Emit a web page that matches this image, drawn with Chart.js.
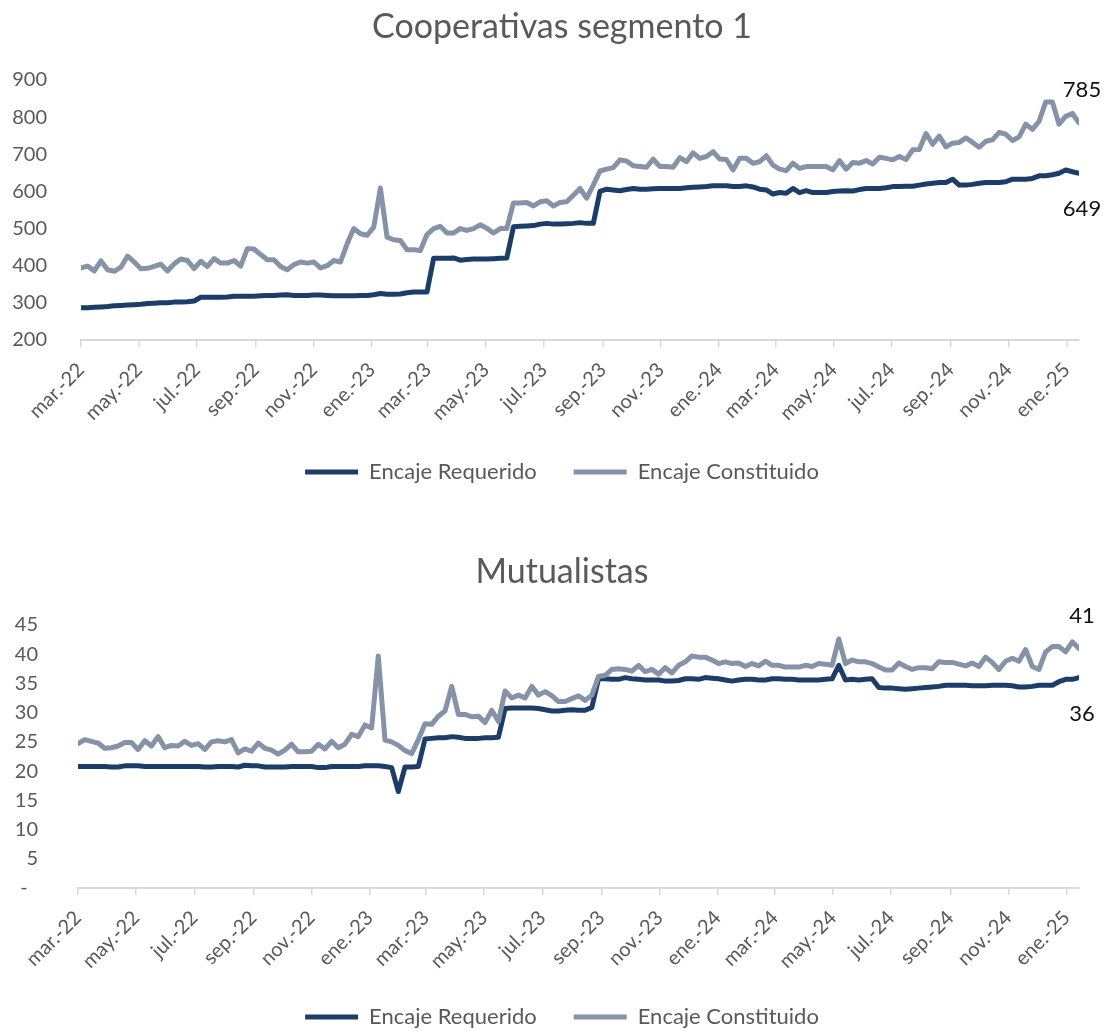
<!DOCTYPE html>
<html><head><meta charset="utf-8">
<script src="https://cdn.jsdelivr.net/npm/chart.js@4.4.1/dist/chart.umd.min.js"></script>
<style>
html,body{margin:0;padding:0;background:#fff;overflow:hidden;width:1106px;height:1031px;}
#c1{position:absolute;left:0;top:0;}
#c2{position:absolute;left:0;top:530px;}
</style></head><body>
<canvas id="c1" width="1106" height="510"></canvas>
<canvas id="c2" width="1106" height="510"></canvas>
<script>
// ---- categories (weekly dates) ----
const dates = [
'2022-03-04','2022-03-11','2022-03-18','2022-03-25','2022-04-01','2022-04-08','2022-04-15','2022-04-22','2022-04-29','2022-05-06',
'2022-05-13','2022-05-20','2022-05-27','2022-06-03','2022-06-10','2022-06-17','2022-06-24','2022-07-01','2022-07-08','2022-07-15',
'2022-07-22','2022-07-29','2022-08-05','2022-08-12','2022-08-19','2022-08-26','2022-09-02','2022-09-09','2022-09-16','2022-09-23',
'2022-09-30','2022-10-07','2022-10-14','2022-10-21','2022-10-28','2022-11-04','2022-11-11','2022-11-18','2022-11-25','2022-12-02',
'2022-12-09','2022-12-16','2022-12-23','2022-12-30','2023-01-06','2023-01-13','2023-01-20','2023-01-27','2023-02-03','2023-02-10',
'2023-02-17','2023-02-24','2023-03-03','2023-03-10','2023-03-17','2023-03-24','2023-03-31','2023-04-07','2023-04-14','2023-04-21',
'2023-04-28','2023-05-05','2023-05-12','2023-05-19','2023-05-26','2023-06-02','2023-06-09','2023-06-16','2023-06-23','2023-06-30',
'2023-07-07','2023-07-14','2023-07-21','2023-07-28','2023-08-04','2023-08-11','2023-08-18','2023-08-25','2023-09-01','2023-09-08',
'2023-09-15','2023-09-22','2023-09-29','2023-10-06','2023-10-13','2023-10-20','2023-10-27','2023-11-03','2023-11-10','2023-11-17',
'2023-11-24','2023-12-01','2023-12-08','2023-12-15','2023-12-22','2023-12-29','2024-01-05','2024-01-12','2024-01-19','2024-01-26',
'2024-02-02','2024-02-09','2024-02-16','2024-02-23','2024-03-01','2024-03-08','2024-03-15','2024-03-22','2024-03-29','2024-04-05',
'2024-04-12','2024-04-19','2024-04-26','2024-05-03','2024-05-10','2024-05-17','2024-05-24','2024-05-31','2024-06-07','2024-06-14',
'2024-06-21','2024-06-28','2024-07-05','2024-07-12','2024-07-19','2024-07-26','2024-08-02','2024-08-09','2024-08-16','2024-08-23',
'2024-08-30','2024-09-06','2024-09-13','2024-09-20','2024-09-27','2024-10-04','2024-10-11','2024-10-18','2024-10-25','2024-11-01',
'2024-11-08','2024-11-15','2024-11-22','2024-11-29','2024-12-06','2024-12-13','2024-12-20','2024-12-27','2025-01-03','2025-01-10',
'2025-01-17'
];

// ---- x tick labels ----
const tickDates = ['2022-03-04','2022-05-04','2022-07-04','2022-09-04','2022-11-04','2023-01-04','2023-03-04','2023-05-04','2023-07-04',
'2023-09-04','2023-11-04','2024-01-04','2024-03-04','2024-05-04','2024-07-04','2024-09-04','2024-11-04','2025-01-04'];
const tickLabels = ['mar.-22','may.-22','jul.-22','sep.-22','nov.-22','ene.-23','mar.-23','may.-23','jul.-23',
'sep.-23','nov.-23','ene.-24','mar.-24','may.-24','jul.-24','sep.-24','nov.-24','ene.-25'];

// ---- y tick labels ----
const coopYTicks = [200,300,400,500,600,700,800,900];
const coopYLabels = ['200','300','400','500','600','700','800','900'];
const mutYTicks = [0,5,10,15,20,25,30,35,40,45];
const mutYLabels = ['-  ','5','10','15','20','25','30','35','40','45'];

// ---- series: Cooperativas segmento 1 ----
const coopRequerido = [
287,287,288,289,290,292,293,294,295,296,
298,299,300,300,302,302,303,305,315,315,
315,315,316,318,318,318,318,319,320,320,
321,322,320,320,320,321,321,320,319,319,
319,319,320,320,322,325,323,323,324,327,
329,329,329,420,420,420,421,415,417,418,
418,418,419,420,421,505,506,507,508,512,
514,512,512,513,514,516,514,514,600,606,
604,602,605,608,606,606,607,608,608,608,
608,610,611,612,613,615,615,615,613,613,
615,612,606,604,593,597,595,608,597,602,
597,597,597,600,601,602,601,605,608,608,
608,610,613,613,614,614,617,620,622,624,
624,633,617,617,619,622,624,624,624,626,
633,633,633,635,642,642,645,649,658,653,
649
];
const coopConstituido = [
394,399,386,413,389,385,396,426,410,392,
393,398,404,386,405,418,414,392,412,398,
419,407,407,414,399,446,445,430,416,416,
398,389,403,410,407,410,394,400,414,410,
459,500,486,482,504,609,477,470,468,443,
443,441,484,500,506,488,488,500,495,500,
510,501,488,500,500,569,569,570,561,572,
575,561,570,572,590,608,582,617,655,660,
664,685,682,669,667,665,687,667,667,665,
691,680,704,689,694,707,687,686,658,689,
689,676,680,696,671,660,656,676,662,667,
667,667,667,658,683,660,678,676,683,674,
692,689,685,694,686,712,713,756,727,749,
720,730,732,744,732,719,735,739,759,754,
737,747,781,767,789,841,841,781,802,810,
785
];

// ---- series: Mutualistas ----
const mutRequerido = [
20.8,20.8,20.8,20.8,20.8,20.7,20.7,20.9,20.9,20.9,
20.8,20.8,20.8,20.8,20.8,20.8,20.8,20.8,20.8,20.7,
20.7,20.8,20.8,20.8,20.7,21.0,20.9,20.9,20.7,20.7,
20.7,20.7,20.8,20.8,20.8,20.8,20.6,20.6,20.8,20.8,
20.8,20.8,20.8,20.9,20.9,20.9,20.8,20.6,16.5,20.7,
20.7,20.8,25.5,25.6,25.7,25.7,25.9,25.8,25.6,25.6,
25.6,25.7,25.7,25.8,30.7,30.8,30.8,30.8,30.8,30.7,
30.5,30.3,30.3,30.4,30.5,30.4,30.4,30.9,35.8,35.8,
35.7,35.7,36.0,35.8,35.7,35.6,35.6,35.6,35.4,35.4,
35.5,35.8,35.8,35.7,36.0,35.9,35.8,35.6,35.4,35.6,
35.7,35.7,35.6,35.6,35.8,35.8,35.7,35.7,35.6,35.6,
35.6,35.6,35.7,35.8,38.1,35.6,35.7,35.6,35.7,35.8,
34.3,34.2,34.2,34.1,34.0,34.1,34.2,34.3,34.4,34.5,
34.7,34.7,34.7,34.7,34.6,34.6,34.6,34.7,34.7,34.7,
34.6,34.4,34.4,34.5,34.7,34.7,34.7,35.3,35.7,35.7,
36.0
];
const mutConstituido = [
24.7,25.4,25.1,24.8,23.9,24.0,24.3,24.9,24.9,23.7,
25.2,24.3,25.9,24.0,24.4,24.3,25.1,24.4,24.7,23.7,
25.0,25.2,25.0,25.4,23.1,23.8,23.4,24.8,23.9,23.6,
22.9,23.6,24.6,23.3,23.3,23.4,24.6,23.8,25.1,24.0,
24.6,26.3,25.9,27.9,27.4,39.7,25.3,25.0,24.4,23.5,
23.0,25.4,28.1,28.0,29.4,30.3,34.5,29.7,29.7,29.3,
29.4,28.3,30.4,28.5,33.7,32.5,33.0,32.5,34.5,33.0,
33.6,32.9,31.9,31.9,32.4,32.9,32.1,33.0,36.2,36.4,
37.4,37.5,37.4,37.1,38.1,37.0,37.4,36.6,37.7,36.8,
38.1,38.7,39.7,39.5,39.5,39.0,38.4,38.7,38.4,38.5,
37.9,38.4,38.0,38.8,38.1,38.1,37.8,37.8,37.8,38.1,
37.9,38.4,38.3,38.1,42.6,38.4,39.0,38.7,38.7,38.4,
37.8,37.3,37.3,38.5,37.9,37.4,37.7,37.7,37.5,38.7,
38.6,38.6,38.3,38.0,38.5,37.9,39.5,38.6,37.4,38.8,
39.3,38.8,40.8,37.9,37.4,40.4,41.3,41.3,40.4,42.1,
41.0
];

const seriesNames = ['Encaje Requerido','Encaje Constituido'];

// ---- styling ----
const FONT = 'Lato';
const TEXT = '#595959';
const C_REQ = '#1b3d68';
const C_CON = '#8592a7';

const day0 = Date.parse(dates[0]);
const toDay = d => (Date.parse(d) - day0) / 86400000;
const tickDays = tickDates.map(toDay);
const lastDay = toDay(dates[dates.length - 1]);
const series = vals => dates.map((d, i) => ({x: toDay(d), y: vals[i]}));

// y-axis labels may extend into the left layout padding: widen the label clip area
const unclipY = {
  id: 'unclipY',
  afterLayout(chart) { chart.scales.y.left = 0; }
};

const endLabels = {
  id: 'endLabels',
  afterDatasetsDraw(chart, args, opts) {
    const ctx = chart.ctx;
    ctx.save();
    ctx.font = '22px ' + FONT;
    ctx.fillStyle = '#111111';
    ctx.textAlign = 'center';
    ctx.textBaseline = 'middle';
    (opts.items || []).forEach(it => {
      const meta = chart.getDatasetMeta(it.ds);
      const pt = meta.data[meta.data.length - 1];
      const d = chart.data.datasets[it.ds].data;
      const v = d[d.length - 1].y;
      ctx.fillText(String(Math.round(v)), pt.x + 3, pt.y + it.dy);
    });
    ctx.restore();
  }
};

function makeChart(el, p) {
  const ds = (label, vals, color, order) => ({
    label, data: series(vals), borderColor: color, backgroundColor: color,
    borderWidth: 5, pointRadius: 0, pointHoverRadius: 0, borderCapStyle: 'round',
    borderJoinStyle: 'round', tension: 0, order, fill: false
  });
  return new Chart(el, {
    type: 'line',
    data: {datasets: [ds(seriesNames[0], p.req, C_REQ, 1), ds(seriesNames[1], p.con, C_CON, 0)]},
    options: {
      responsive: false, animation: false, devicePixelRatio: 1,
      layout: {padding: {left: 45, right: 27, top: 0, bottom: p.padBottom}},
      plugins: {
        title: {display: true, text: p.title, color: TEXT,
          font: {family: FONT, size: 34, weight: 'normal'}, padding: {top: p.tTop, bottom: p.tBot}},
        legend: {position: 'bottom', labels: {usePointStyle: true, pointStyle: 'line', pointStyleWidth: 53,
          color: TEXT, font: {family: FONT, size: 22}, padding: 37,
          sort: (a, b) => a.datasetIndex - b.datasetIndex}},
        tooltip: {enabled: false},
        endLabels: {items: [{ds: 1, dy: p.dyUp}, {ds: 0, dy: p.dyDown}]}
      },
      scales: {
        x: {type: 'linear', min: 0, max: lastDay,
          afterBuildTicks: s => { s.ticks = tickDays.map(v => ({value: v})); },
          afterFit: s => { s.height = p.xH; },
          ticks: {autoSkip: false, maxRotation: 45, minRotation: 45, color: TEXT,
            font: {family: FONT, size: 20}, padding: 11, callback: (v, i) => tickLabels[i]},
          grid: {display: true, drawOnChartArea: false, drawTicks: true, tickLength: 7, color: '#d9d9d9', lineWidth: 1.5},
          border: {display: true, color: '#d9d9d9', width: 2}},
        y: {min: p.yMin, max: p.yMax,
          afterBuildTicks: s => { s.ticks = p.yTicks.map(v => ({value: v})); },
          afterFit: s => { s.width = p.yW; },
          ticks: {color: TEXT, font: {family: FONT, size: 20}, padding: p.yPad, callback: (v, i) => p.yLabels[i]},
          grid: {display: false}, border: {display: false}}
      }
    },
    plugins: [unclipY, endLabels]
  });
}

makeChart(document.getElementById('c1'), {
  title: 'Cooperativas segmento 1', req: coopRequerido, con: coopConstituido,
  yMin: 200, yMax: 900, yTicks: coopYTicks, yLabels: coopYLabels,
  tTop: 6.6, tBot: 32.6, padBottom: 17, xH: 84, yW: 36, yPad: 26, dyUp: -33, dyDown: 36
});
makeChart(document.getElementById('c2'), {
  title: 'Mutualistas', req: mutRequerido, con: mutConstituido,
  yMin: 0, yMax: 45, yTicks: mutYTicks, yLabels: mutYLabels,
  tTop: 21.6, tBot: 32.6, padBottom: 2, xH: 81, yW: 33, yPad: 32, dyUp: -32, dyDown: 36
});
</script>
</body></html>
